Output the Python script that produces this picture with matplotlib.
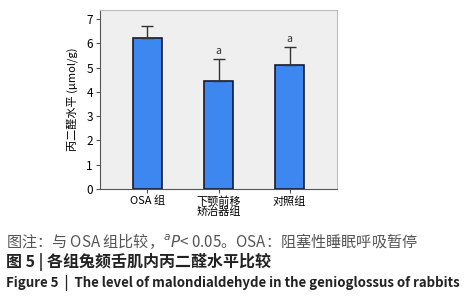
import matplotlib
matplotlib.use("Agg")
import matplotlib.pyplot as plt

plt.rcParams['font.family'] = ['Noto Sans CJK SC', 'DejaVu Sans']

categories = ["OSA 组", "下颚前移\n矫治器组", "对照组"]
means = [6.23, 4.47, 5.12]
errors = [0.51, 0.88, 0.74]
sig = ["", "a", "a"]
yticks = [0, 1, 2, 3, 4, 5, 6, 7]

fig = plt.figure(figsize=(4.75, 3.0), dpi=100)
ax = fig.add_axes([100/475, 1-189/300, 237/475, 179/300])
ax.set_facecolor('#efefef')
x = list(range(len(categories)))
ax.bar(x, means, width=0.4, color='#3d87f0', edgecolor='#1a1a2e', linewidth=1.2, zorder=2)
ax.errorbar(x, means, yerr=[[0]*3, errors], fmt='none', ecolor='#333333', elinewidth=1, capsize=4, capthick=1, zorder=3)
for xi, m, e, s in zip(x, means, errors, sig):
    if s:
        ax.text(xi, m + e + 0.12, s, ha='center', va='bottom', fontsize=7.5, color='#333333')
ax.set_xlim(-0.667, 2.667)
ax.set_ylim(0, 7.38)
ax.set_yticks(yticks)
ax.set_xticks(x)
ax.set_xticklabels(categories, fontsize=8, linespacing=1.0)
ax.tick_params(axis='y', labelsize=8.5, length=3, color='#555555', pad=2)
ax.tick_params(axis='x', length=3, color='#555555', pad=2)
for sp in ax.spines.values():
    sp.set_color('#bdbdbd')
    sp.set_linewidth(0.8)
ax.spines['left'].set_color('#555555')
ax.spines['bottom'].set_color('#555555')
ax.set_ylabel("丙二醛水平 (μmol/g)", fontsize=8, labelpad=6)

fig.text(0.012, 1-241/300, "图注：与 OSA 组比较，$^{a}$$\\it{P}$< 0.05。OSA：阻塞性睡眠呼吸暂停",
         fontsize=10.9, color='#555555', va='center', ha='left')
fig.text(0.012, 1-262/300, "图 5 | 各组兔颏舌肌内丙二醛水平比较",
         fontsize=11.5, color='#222222', va='center', ha='left', fontweight='bold')
fig.text(0.012, 1-283/300, "Figure 5  |  The level of malondialdehyde in the genioglossus of rabbits",
         fontsize=9.5, color='#222222', va='center', ha='left', fontweight='bold')

fig.savefig("out.png", dpi=100)
